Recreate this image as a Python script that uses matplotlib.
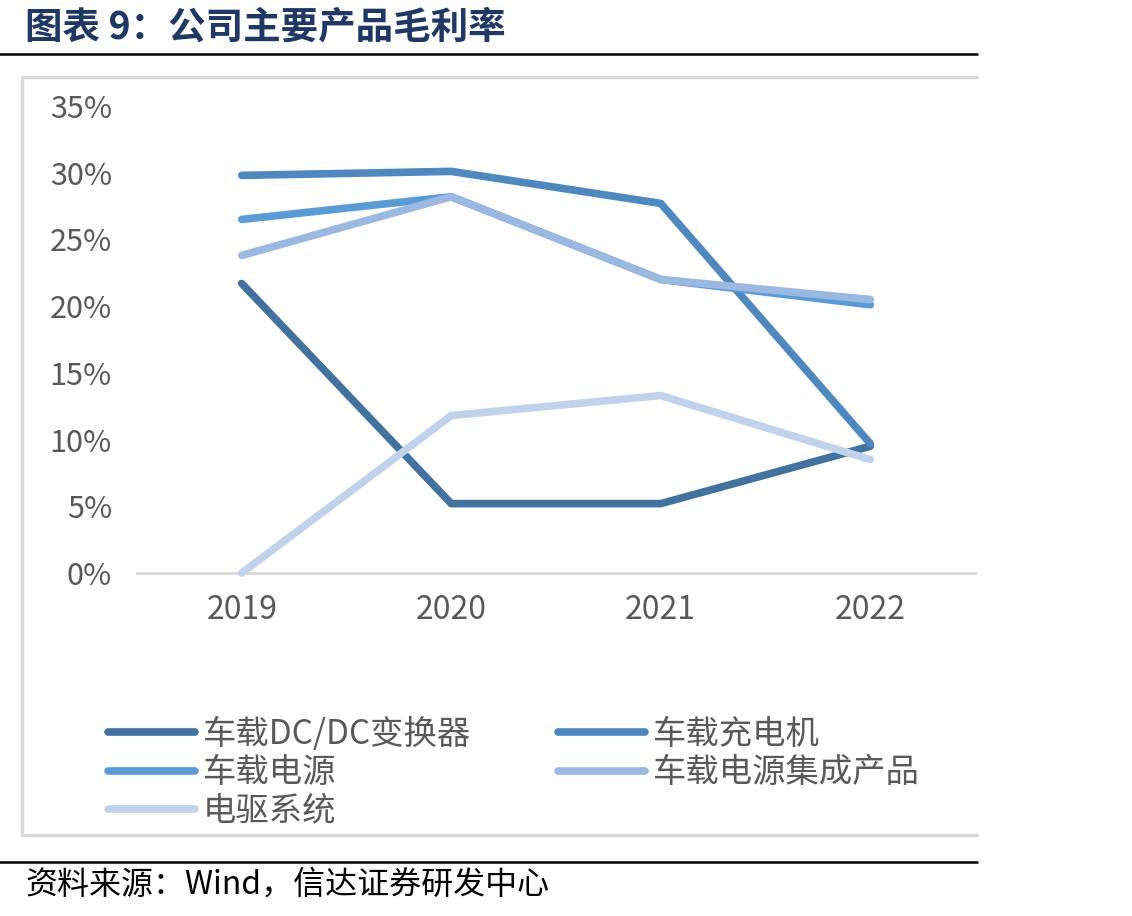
import matplotlib.pyplot as plt
from matplotlib.lines import Line2D
from matplotlib.ticker import FuncFormatter

plt.rcParams['font.family'] = ['Noto Sans CJK SC', 'DejaVu Sans']
plt.rcParams['lines.solid_capstyle'] = 'round'
plt.rcParams['lines.solid_joinstyle'] = 'round'

years = ['2019', '2020', '2021', '2022']
dcdc = [21.7, 5.2, 5.2, 9.5]
charger = [29.8, 30.1, 27.7, 9.7]
power = [26.5, 28.2, 22.0, 20.1]
power_int = [23.8, 28.2, 22.0, 20.5]
drive = [0.0, 11.8, 13.3, 8.5]

names = ['车载DC/DC变换器', '车载充电机', '车载电源', '车载电源集成产品', '电驱系统']
series = [dcdc, charger, power, power_int, drive]
colors = ['#43729f', '#4e88bf', '#5b9bd5', '#9bb9e0', '#c1d3eb']

W, H = 1132, 916
fig = plt.figure(figsize=(W / 100, H / 100), dpi=100)

# page decorations: title, rules, chart frame, source
fig.text(25 / W, 1 - 27 / H, '图表 9：公司主要产品毛利率', fontsize=27,
         fontweight='bold', color='#1f3864', va='center', ha='left')
fig.add_artist(Line2D([0, 977 / W], [1 - 54 / H] * 2, color='black', lw=1.8))
fig.add_artist(Line2D([0, 977 / W], [1 - 862 / H] * 2, color='black', lw=1.8))
gray = '#d9d9d9'
fig.add_artist(Line2D([22 / W, 977 / W], [1 - 77 / H] * 2, color=gray, lw=2.5))
fig.add_artist(Line2D([22 / W, 977 / W], [1 - 835 / H] * 2, color=gray, lw=2.5))
fig.add_artist(Line2D([22 / W, 22 / W], [1 - 77 / H, 1 - 835 / H], color=gray, lw=2.5))
fig.text(25 / W, 1 - 885 / H, '资料来源：Wind，信达证券研发中心', fontsize=23,
         style='italic', color='black', va='center', ha='left')

ax = fig.add_axes([137 / W, 1 - 573 / H, 838 / W, 467 / H])
x = list(range(len(years)))
lines = []
for vals, name, c in zip(series, names, colors):
    ln, = ax.plot(x, vals, color=c, lw=5.5, label=name, clip_on=False)
    lines.append(ln)

ax.set_xlim(-0.5, 3.5)
ax.set_ylim(0, 35)
ax.set_yticks(range(0, 36, 5))
ax.yaxis.set_major_formatter(FuncFormatter(lambda v, p: f'{v:.0f}%'))
ax.set_xticks(x)
ax.set_xticklabels(years)
for s in ['top', 'right', 'left']:
    ax.spines[s].set_visible(False)
ax.spines['bottom'].set_color(gray)
ax.spines['bottom'].set_linewidth(2)
ax.spines['bottom'].set_zorder(0)
ax.tick_params(axis='y', length=0, labelsize=22, labelcolor='#595959', pad=18)
ax.tick_params(axis='x', length=0, labelsize=23, labelcolor='#595959', pad=15)

# row-major legend order, matplotlib fills columns first
order = [0, 2, 4, 1, 3]
fig.legend([lines[i] for i in order], [names[i] for i in order],
           loc='upper left', bbox_to_anchor=(108 / W, 1 - 717 / H), ncol=2,
           frameon=False, fontsize=24, labelcolor='#595959', handlelength=2.6,
           handletextpad=0.25, columnspacing=2.6, labelspacing=0.1,
           borderpad=0, borderaxespad=0)

fig.savefig('out.png', dpi=100)
